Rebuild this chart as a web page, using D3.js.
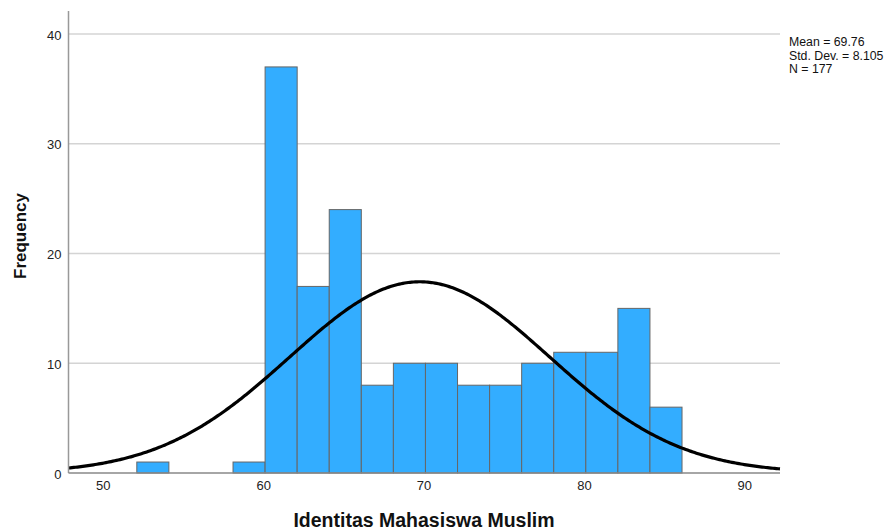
<!DOCTYPE html>
<html><head><meta charset="utf-8">
<script src="https://cdn.jsdelivr.net/npm/d3@7"></script>
<style>body{margin:0;background:#fff}svg{display:block}text{font-family:"Liberation Sans",Arial,sans-serif}</style>
</head><body>
<svg id="c" width="893" height="532"></svg>
<script>
const binStarts = [52.12,54.12,56.12,58.12,60.12,62.12,64.12,66.12,68.12,70.12,72.12,74.12,76.12,78.12,80.12,82.12,84.12];
const counts    = [1,0,0,1,37,17,24,8,10,10,8,8,10,11,11,15,6];
const binWidth = 2;
const xTicks = [50,60,70,80,90];
const yTicks = [0,10,20,30,40];
const statMean = 69.76, statSD = 8.105, statN = 177;
const statLabels = ["Mean = 69.76","Std. Dev. = 8.105","N = 177"];

const svg = d3.select("#c");
const L=68.5, R=780, T=11, B=473;
const x = d3.scaleLinear().domain([47.86,92.23]).range([L,R]);
const y = d3.scaleLinear().domain([0,40]).range([B,34]);

// gridlines
svg.append("g").selectAll("line").data(yTicks.filter(d=>d>0)).join("line")
  .attr("x1",L).attr("x2",R).attr("y1",d=>y(d)).attr("y2",d=>y(d))
  .attr("stroke","#d4d4d4").attr("stroke-width",1.5);

// bars
svg.append("g").selectAll("rect").data(binStarts.map((s,i)=>({s,c:counts[i]})).filter(d=>d.c>0)).join("rect")
  .attr("x",d=>x(d.s)).attr("width",d=>x(d.s+binWidth)-x(d.s))
  .attr("y",d=>y(d.c)).attr("height",d=>y(0)-y(d.c))
  .attr("fill","#33adff").attr("stroke","#666").attr("stroke-width",1);

// normal curve
const xs = d3.range(0,401).map(i=>47.86+(92.23-47.86)*i/400);
const pdf = v => statN*binWidth/(statSD*Math.sqrt(2*Math.PI))*Math.exp(-0.5*((v-statMean)/statSD)**2);
svg.append("path").datum(xs)
  .attr("d",d3.line().x(d=>x(d)).y(d=>y(pdf(d))))
  .attr("fill","none").attr("stroke","#000").attr("stroke-width",3.2);

// axes
svg.append("line").attr("x1",L).attr("x2",L).attr("y1",T).attr("y2",B).attr("stroke","#999").attr("stroke-width",1.5);
svg.append("line").attr("x1",L).attr("x2",R).attr("y1",B).attr("y2",B).attr("stroke","#888").attr("stroke-width",1.5);

const yAxis = d3.axisLeft(y).tickValues(yTicks).tickSize(0).tickPadding(7);
svg.append("g").attr("transform",`translate(${L},0)`).call(yAxis)
  .call(g=>g.select(".domain").remove())
  .selectAll("text").attr("font-size",13).attr("fill","#222").attr("font-family","Liberation Sans, Arial, sans-serif").attr("dy","0.4em");

const xAxis = d3.axisBottom(x).tickValues(xTicks).tickSize(0).tickPadding(8);
svg.append("g").attr("transform",`translate(0,${B})`).call(xAxis)
  .call(g=>g.select(".domain").remove())
  .selectAll("text").attr("font-size",13).attr("fill","#222").attr("font-family","Liberation Sans, Arial, sans-serif");

// titles
svg.append("text").attr("x",424).attr("y",527).attr("text-anchor","middle")
  .attr("font-size",19.5).attr("font-weight","bold").attr("fill","#111").text("Identitas Mahasiswa Muslim");
svg.append("text").attr("transform","translate(26,236) rotate(-90)").attr("text-anchor","middle")
  .attr("font-size",17).attr("font-weight","bold").attr("fill","#111").text("Frequency");

// stats
svg.append("g").selectAll("text").data(statLabels).join("text")
  .attr("x",789).attr("y",(d,i)=>46+i*13.5).attr("font-size",12.3).attr("fill","#111").text(d=>d);
</script>
</body></html>
